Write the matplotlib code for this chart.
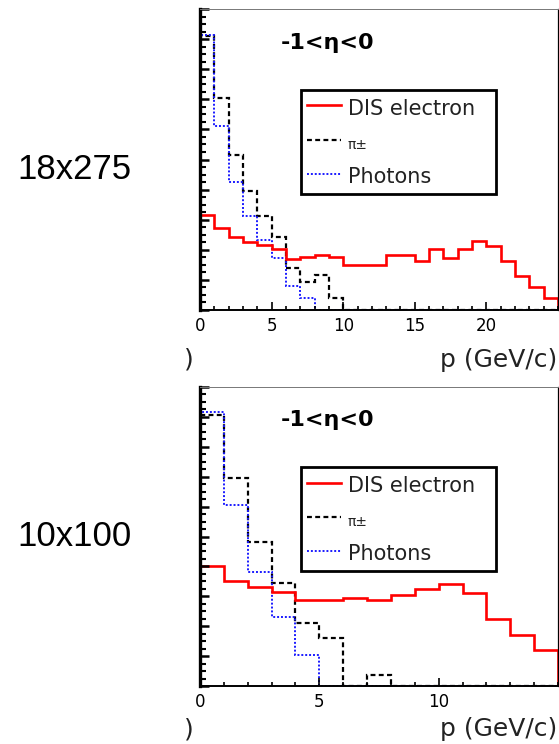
import numpy as np
import matplotlib
matplotlib.use("Agg")
import matplotlib.pyplot as plt
from matplotlib.lines import Line2D
from matplotlib.ticker import MultipleLocator, NullFormatter

# ------------------------------------------------------------------ #
# Data: yields per 1 GeV/c bin (arbitrary normalisation)
# ------------------------------------------------------------------ #
beam_labels = ["18x275", "10x100"]
eta_label = "-1<η<0"
series_names = ["DIS electron", "π±", "Photons"]

# 18x275, p = 0 .. 25 GeV/c
dis_18x275 = [0.316, 0.272, 0.242, 0.227, 0.216, 0.202, 0.169, 0.175, 0.183,
              0.175, 0.150, 0.150, 0.150, 0.183, 0.183, 0.163, 0.203, 0.174,
              0.203, 0.230, 0.214, 0.164, 0.113, 0.078, 0.039]
pi_18x275 = [0.909, 0.704, 0.516, 0.394, 0.313, 0.242, 0.139, 0.094, 0.116,
             0.039, 0, 0, 0, 0, 0, 0, 0, 0, 0, 0, 0, 0, 0, 0, 0]
gam_18x275 = [0.915, 0.612, 0.424, 0.313, 0.231, 0.172, 0.080, 0.039, 0,
              0, 0, 0, 0, 0, 0, 0, 0, 0, 0, 0, 0, 0, 0, 0, 0]
ticks_18x275 = [0, 5, 10, 15, 20]

# 10x100, p = 0 .. 15 GeV/c
dis_10x100 = [0.401, 0.352, 0.330, 0.315, 0.287, 0.287, 0.294, 0.289, 0.305,
              0.326, 0.342, 0.312, 0.225, 0.172, 0.119]
pi_10x100 = [0.905, 0.697, 0.482, 0.345, 0.212, 0.160, 0, 0.038, 0, 0, 0, 0,
             0, 0, 0]
gam_10x100 = [0.916, 0.605, 0.382, 0.232, 0.104, 0, 0, 0, 0, 0, 0, 0, 0, 0, 0]
ticks_10x100 = [0, 5, 10]

RED = "#ff0000"
BLK = "#000000"
BLU = "#1a1aff"

W, H = 559, 744


def fx(px):
    return px / W


def fy(py):
    return 1 - py / H


def draw_panel(ax, dis, pi, gam, ticks, xlab_y):
    edges = np.arange(len(dis) + 1)
    ax.stairs(pi, edges, color=BLK, lw=1.6, ls=(0, (2.2, 1.5)))
    ax.stairs(gam, edges, color=BLU, lw=1.4, ls=(0, (1, 1)))
    ax.stairs(dis, edges, color=RED, lw=1.9)

    ax.set_xlim(0, len(dis))
    ax.set_ylim(0, 1)
    ax.set_xticks(ticks)
    ax.xaxis.set_minor_locator(MultipleLocator(1))
    ax.yaxis.set_major_locator(MultipleLocator(0.1))
    ax.yaxis.set_minor_locator(MultipleLocator(0.025))
    ax.yaxis.set_major_formatter(NullFormatter())

    ax.tick_params(axis="x", which="major", direction="in", length=6,
                   width=1.2, labelsize=12, pad=5, top=False)
    ax.tick_params(axis="x", which="minor", direction="in", length=3,
                   width=1.2, top=False)
    ax.tick_params(axis="y", which="major", direction="in", length=6.5,
                   width=1.8, right=False)
    ax.tick_params(axis="y", which="minor", direction="in", length=4,
                   width=1.5, right=False)

    ax.spines["left"].set_linewidth(2.4)
    ax.spines["bottom"].set_linewidth(1.4)
    ax.spines["top"].set_linewidth(0.7)
    ax.spines["top"].set_color("#777777")
    ax.spines["right"].set_linewidth(0.9)

    ax.text(0.355, 0.888, eta_label, transform=ax.transAxes, ha="center",
            va="center", fontsize=16, fontweight="bold")
    ax.text(0.997, xlab_y, "p (GeV/c)", transform=ax.transAxes, ha="right",
            va="center", fontsize=18, color="#222222")

    handles = [
        Line2D([], [], color=RED, lw=1.9),
        Line2D([], [], color=BLK, lw=1.6, ls=(0, (2.2, 1.5))),
        Line2D([], [], color=BLU, lw=1.4, ls=(0, (1, 1))),
    ]
    leg = ax.legend(handles, series_names, loc="upper left",
                    bbox_to_anchor=(0.282, 0.399, 0.545, 0.332), mode="expand",
                    fontsize=15, handlelength=1.6, handletextpad=0.35,
                    handleheight=1.3, labelspacing=0.55, borderpad=0.3,
                    borderaxespad=0, fancybox=False, framealpha=1,
                    edgecolor="black")
    leg.get_frame().set_linewidth(2.0)
    for t in leg.get_texts():
        t.set_color("#222222")
    leg.get_texts()[1].set_fontsize(10)


fig = plt.figure(figsize=(W / 100, H / 100), dpi=100)

ax_top = fig.add_axes([fx(200), fy(310), 358 / W, 301 / H])
draw_panel(ax_top, dis_18x275, pi_18x275, gam_18x275, ticks_18x275, -0.166)

ax_bot = fig.add_axes([fx(200), fy(686), 358 / W, 299 / H])
draw_panel(ax_bot, dis_10x100, pi_10x100, gam_10x100, ticks_10x100, -0.143)

# beam energy labels on the left
fig.text(fx(132), fy(179), beam_labels[0], ha="right", va="baseline",
         fontsize=25, family="Liberation Sans")
fig.text(fx(132), fy(546), beam_labels[1], ha="right", va="baseline",
         fontsize=25, family="Liberation Sans")

# cut-off axis title of the neighbouring panel
fig.text(fx(194), fy(360), ")", ha="right", va="center", fontsize=18,
         color="#222222")
fig.text(fx(194), fy(729), ")", ha="right", va="center", fontsize=18,
         color="#222222")

fig.savefig("out.png", dpi=100)
